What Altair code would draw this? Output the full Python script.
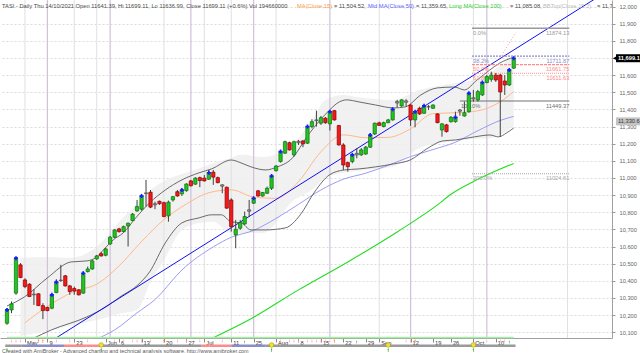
import altair as alt
import pandas as pd

# ---------------- data ----------------
opens = [10152,10230,10328,10493,10405,10380,10322,10324,10255,10244,
         10240,10331,10404,10429,10370,10355,10347,10328,10454,10469,
         10528,10558,10549,10615,10654,10703,10687,10720,10751,10808,
         10818,10913,10917,10850,10864,10856,10779,10872,10920,10907,
         10926,10983,10964,11002,10999,10993,11034,11002,10960,10946,
         10872,10668,10707,10732,10806,10853,10925,10895,10911,10940,
         11043,11096,11145,11206,11135,11214,11216,11203,11300,11335,
         11320,11349,11316,11393,11306,11193,11090,11096,11135,11135,
         11140,11180,11257,11322,11300,11323,11339,11438,11421,11450,
         11426,11339,11407,11378,11416,11407,11374,11280,11310,11329,
         11329,11390,11362,11387,11468,11456,11485,11557,11576,11601,
         11601,11566,11543,11641.39]
highs = [10240,10279,10538,10503,10415,10386,10351,10328,10269,10249,
         10324,10409,10493,10434,10376,10366,10351,10454,10483,10522,
         10551,10569,10594,10662,10701,10709,10722,10740,10796,10872,
         10907,10989,10930,10862,10868,10862,10868,10895,10930,10936,
         10969,10989,11005,11008,11018,11047,11047,11008,10964,10950,
         10882,10755,10755,10804,10872,10884,10930,10919,10950,11018,
         11076,11160,11218,11212,11218,11222,11222,11306,11343,11393,
         11362,11356,11397,11397,11310,11203,11096,11140,11174,11175,
         11187,11257,11323,11329,11329,11345,11409,11456,11460,11460,
         11430,11393,11416,11426,11426,11430,11378,11320,11316,11362,
         11387,11403,11446,11498,11514,11514,11562,11601,11621,11613,
         11607,11601,11636,11699.11]
lows = [10143,10211,10318,10415,10357,10308,10259,10253,10176,10222,
        10234,10328,10394,10366,10318,10318,10314,10324,10448,10464,
        10522,10541,10543,10609,10649,10681,10684,10600,10748,10802,
        10810,10833,10824,10818,10843,10771,10745,10862,10891,10895,
        10920,10950,10960,10946,10979,10989,10960,10969,10911,10820,
        10687,10590,10697,10726,10773,10849,10891,10891,10907,10930,
        11037,11090,11140,11160,11125,11193,11180,11199,11290,11300,
        11310,11316,11277,11335,11189,11047,11037,11086,11115,11129,
        11135,11175,11251,11305,11296,11320,11335,11413,11416,11416,
        11304,11296,11368,11374,11397,11403,11320,11241,11265,11323,
        11323,11364,11358,11381,11446,11446,11479,11553,11562,11561,
        11240,11485,11537,11636.99]
closes = [10230,10265,10532,10419,10366,10308,10318,10255,10226,10226,
          10318,10392,10401,10370,10337,10340,10318,10444,10469,10516,
          10545,10545,10586,10654,10697,10687,10716,10736,10789,10833,
          10895,10909,10830,10843,10850,10775,10859,10891,10895,10930,
          10965,10955,10999,10985,10983,11031,11005,10973,10952,10824,
          10716,10701,10740,10775,10814,10882,10895,10915,10940,11012,
          11070,11154,11212,11164,11212,11206,11199,11300,11329,11339,
          11352,11323,11387,11339,11193,11076,11066,11135,11144,11164,
          11180,11251,11320,11307,11323,11339,11401,11446,11456,11442,
          11339,11387,11374,11421,11415,11426,11323,11316,11271,11354,
          11354,11397,11381,11495,11461,11504,11557,11592,11601,11572,
          11502,11543,11631,11699.11]
signal_bars = [0, 2, 10, 11, 17, 30, 39, 45, 55, 59, 61, 67, 72, 77, 81, 86,
               91, 93, 100, 103, 106, 112, 113]

ma15_bars = [4, 9, 15, 20, 25, 30, 35, 40, 45, 50, 55, 60, 65, 70, 75, 80,
             85, 90, 95, 100, 105, 110, 113]
ma15_vals = [10155, 10250, 10338, 10380, 10487, 10629, 10757, 10848, 10914,
             10931, 10889, 10881, 10979, 11153, 11252, 11235, 11237, 11287,
             11376, 11381, 11392, 11445, 11504.52]
ma50_bars = [20, 24, 29, 33, 39, 46, 50, 55, 60, 65, 70, 75, 80, 85, 90, 95,
             100, 105, 110, 113]
ma50_vals = [10060, 10113, 10213, 10290, 10463, 10598, 10654, 10694, 10764,
             10846, 10930, 10993, 11028, 11074, 11125, 11166, 11209, 11276,
             11336, 11359.65]
ma100_bars = [45, 54, 65, 76, 87, 96, 99, 105, 113]
ma100_vals = [10055, 10172, 10347, 10510, 10685, 10843, 10905, 10992, 11085.08]

bbtop_bars = [0, 3.9, 9, 14.3, 17.8, 20, 21.5, 23.7, 25.9, 28.7, 31.8, 35.3,
              39, 42.8, 45.6, 50, 52.2, 54.4, 57.7, 60.3, 63.2, 67.5, 71.3,
              74.1, 75.7, 78.5, 82.2, 86.2, 88.8, 92.3, 96, 99.8, 102, 104.8,
              107.7, 109.9, 113]
bbtop_vals = [10253, 10306, 10417, 10510, 10516, 10539, 10580, 10639, 10679,
              10767, 10855, 10930, 10989, 11030, 11053, 11105, 11088, 11065,
              11047, 11065, 11105, 11263, 11380, 11444, 11456, 11444, 11426,
              11409, 11415, 11485, 11526, 11531, 11514, 11572, 11631, 11671,
              11705]
bbbot_bars = [6.1, 9.9, 17.8, 22.1, 25.2, 29.2, 31.8, 35.3, 39, 42.8, 45.6,
              47.8, 50, 52.2, 54.4, 57.7, 62.1, 65.4, 68.6, 71.9, 75.2, 78.5,
              82.2, 86.2, 89.9, 93.9, 97.1, 100, 104.2, 107.7, 109.6, 111.4, 113]
bbbot_vals = [10067, 10113, 10189, 10248, 10306, 10376, 10452, 10621, 10738,
              10767, 10785, 10785, 10744, 10738, 10697, 10697, 10709, 10785,
              10919, 11018, 11047, 11053, 11065, 11082, 11105, 11175, 11216,
              11222, 11240, 11251, 11240, 11263, 11292]

cloud_bars = [3, 10, 14, 18, 22, 25, 29, 32, 35, 39, 43, 46, 50, 52, 57, 64,
              68, 71, 75, 78, 86, 92, 100, 104, 108, 113]
cloud_top = [10534, 10539, 10534, 10563, 10650, 10744, 10849, 10930, 10983,
             11024, 11059, 11088, 11117, 11135, 11123, 11205, 11339, 11456,
             11485, 11473, 11456, 11514, 11555, 11572, 11619, 11718]
cloud_bot = [10078, 10113, 10137, 10160, 10184, 10207, 10230, 10393, 10522,
             10697, 10738, 10744, 10679, 10679, 10679, 10872, 10930, 11000,
             11030, 11041, 11065, 11175, 11216, 11228, 11234, 11304]

trend_bars = [8, 134]
trend_vals = [10018, 12093]
fibdot_bars = [109.9, 113.5]
fibdot_vals = [11700, 11850]

fib_pct = ["0.0%", "38.2%", "50.0%", "61.8%", "100.0%", "200.0%"]
fib_vals = [11874.13, 11711.87, 11661.75, 11611.63, 11449.37, 11024.61]
fib_start = [103.7, 103.7, 103.7, 103.7, 101.0, 103.7]
fib_end = [125.4, 125.4, 125.4, 125.4, 125.4, 125.4]
fib_text = ["11874.13", "11711.87", "11661.75", "11611.63", "11449.37", "11024.61"]

tick_bars = [4, 9, 15, 22, 25, 30, 35, 40, 44, 50, 55, 60, 65, 70, 75, 80,
             83, 90, 95, 99, 104, 109]
tick_labels = ["May", "9", "23", "Jun", "6", "13", "20", "27", "Jul", "11",
               "25", "Aug", "8", "15", "22", "29", "Sep", "12", "19", "26",
               "Oct", "10"]
y_ticks = list(range(10100, 12001, 100))
y_hidden_label = 11700          # covered by the last-price tag
grid_bars = [4, 15, 20, 35, 44, 50, 60, 83, 104, 125]
study_bars = [9, 23, 41, 55, 72, 90, 107]

# bottom ribbon (state per bar range) and signal icons under the chart
ribbon_from = [-0.4, 3.3, 12.7, 17.8, 20.4, 43.4, 45.2, 50, 57.7]
ribbon_to = [3.3, 12.7, 17.8, 20.4, 43.4, 45.2, 50, 57.7, 113.4]
ribbon_state = ["m", "c", "k", "r", "m", "r", "k", "c", "m"]
sell_bars = [1, 2, 3, 11, 14, 18, 24, 26, 28, 29, 30, 32, 38, 40, 43, 48, 61,
             63, 64, 65, 67, 68, 69, 70, 71, 72, 89, 90, 107, 110, 111]
alert_bars = [7, 8, 35, 73, 91]
event_bars = [21, 59, 85, 104]
buy_bars = [0, 21, 59, 85, 104]
small_buy_bars = [53, 78, 112]

last_price = 11699.11
last_label = "11,699.1"
other_price = 11330.6
other_label = "11,330.6"

header = [
    ("TASI - Daily Thu 14/10/2021 Open 11641.39, Hi 11699.11, Lo 11636.99, "
     "Close 11699.11 (+0.6%) Vol 194660000", "#4a4a4a"),
    ("MA(Close,15)", "#ff9a3c"),
    ("= 11,504.52,", "#4a4a4a"),
    ("Mid MA(Close,50)", "#6060ff"),
    ("= 11,359.65,", "#4a4a4a"),
    ("Long MA(Close,100)", "#33cc33"),
    ("= 11,085.08,", "#4a4a4a"),
    ("BBTop(Close,15,2)", "#bdbdbd"),
    ("= 11,70", "#4a4a4a"),
]
header_x = [2, 297, 334, 368, 416, 449, 510, 543, 597]
footer = ("Created with AmiBroker - Advanced charting and technical analysis "
          "software. http://www.amibroker.com")

# ---------------- chart ----------------
FONT = "Liberation Sans"
FS = 5.7
W, H = 612, 338

xs = alt.Scale(domain=[-0.45, 133.8], nice=False, zero=False)
ys = alt.Scale(domain=[10066, 12039], nice=False, zero=False)

lab_expr = ("[" + ",".join("'%s'" % t for t in tick_labels) + "][indexof(["
            + ",".join(str(b) for b in tick_bars) + "], datum.value)]")
x_axis = alt.Axis(values=tick_bars, labelExpr=lab_expr, grid=False,
                  tickSize=4, tickColor="#888", domainColor="#a0a0a0",
                  labelFontSize=FS, labelFont=FONT, labelColor="#333",
                  labelAlign="left", labelBaseline="middle", labelPadding=0,
                  labelOffset=1.5, labelOverlap=False, labelFlush=False,
                  title=None)
y_axis = alt.Axis(orient="right", values=y_ticks,
                  labelExpr="datum.value == %d ? '' : format(datum.value, ',d')"
                  % y_hidden_label,
                  grid=True, gridColor="#d2d2d2", gridDash=[2, 2],
                  gridWidth=0.8, tickSize=3, tickColor="#999",
                  domainColor="#a0a0a0", labelFontSize=FS, labelFont=FONT,
                  labelColor="#666", labelPadding=4, title=None)


def X(f="bar"):
    return alt.X(f"{f}:Q", scale=xs, axis=x_axis)


def Y(f="val"):
    return alt.Y(f"{f}:Q", scale=ys, axis=y_axis)


candles = pd.DataFrame({"bar": list(range(len(closes))), "open": opens,
                        "high": highs, "low": lows, "close": closes})
candles["dir"] = ["flat" if abs(c - o) < 12 else ("up" if c > o else "down")
                  for o, c in zip(opens, closes)]
sig = candles[candles["bar"].isin(signal_bars)]


def line_df(b, v):
    return pd.DataFrame({"bar": b, "val": v})


cloud = alt.Chart(pd.DataFrame({"bar": cloud_bars, "top": cloud_top,
                                "bot": cloud_bot})).mark_area(
    color="#eeeeee", opacity=0.85, interpolate="monotone").encode(
    x=X(), y=Y("top"), y2="bot:Q")

vgrid = alt.Chart(pd.DataFrame({"bar": grid_bars})).mark_rule(
    color="#e0e0e0", strokeWidth=1).encode(x=X())
vstudy = alt.Chart(pd.DataFrame({"bar": study_bars})).mark_rule(
    color="#cdc2da", strokeWidth=1.2).encode(x=X())


def ln(b, v, color, width=1.0, dash=None, interp="monotone"):
    kw = dict(color=color, strokeWidth=width, clip=True, interpolate=interp)
    if dash:
        kw["strokeDash"] = dash
    return alt.Chart(line_df(b, v)).mark_line(**kw).encode(x=X(), y=Y())


ma100 = ln(ma100_bars, ma100_vals, "#22dd22", 1.1)
ma50 = ln(ma50_bars, ma50_vals, "#9c9cf2", 1.0)
ma15 = ln(ma15_bars, ma15_vals, "#ffb98a", 1.0)
bbtop = ln(bbtop_bars, bbtop_vals, "#5a5a5a", 0.9)
bbbot = ln(bbbot_bars, bbbot_vals, "#5a5a5a", 0.9)
trend = ln(trend_bars, trend_vals, "#1010f0", 1.0, interp="linear")
fibdot = ln(fibdot_bars, fibdot_vals, "#ff9999", 1.0, [1, 2], "linear")

fib_df = pd.DataFrame({"lvl": fib_pct, "val": fib_vals, "b0": fib_start,
                       "b1": fib_end, "txt": fib_text})
fib_colors = alt.Scale(domain=fib_pct, range=["#9a9a9a", "#8c8cc8", "#ff8a8a",
                                              "#ff8a8a", "#707070", "#a8a8a8"])
fib_txt_colors = alt.Scale(domain=fib_pct, range=["#777", "#8080b0", "#ff6060",
                                                  "#ff6060", "#555", "#888"])
fib_dash = alt.Scale(domain=fib_pct, range=[[1, 0], [2, 1], [3, 1], [1, 1],
                                            [1, 0], [1, 1]])
fib_w = alt.Scale(domain=fib_pct, range=[1.4, 1, 1, 1, 1.5, 1])
fib_lines = alt.Chart(fib_df).mark_rule().encode(
    x=X("b0"), x2="b1:Q", y=Y(),
    color=alt.Color("lvl:N", scale=fib_colors, legend=None),
    strokeDash=alt.StrokeDash("lvl:N", scale=fib_dash, legend=None),
    strokeWidth=alt.StrokeWidth("lvl:N", scale=fib_w, legend=None))
fib_pct_txt = alt.Chart(fib_df).mark_text(
    align="left", baseline="top", dy=1.5, dx=1, fontSize=FS, font=FONT).encode(
    x=X("b0"), y=Y(), text="lvl:N",
    color=alt.Color("lvl:N", scale=fib_txt_colors, legend=None))
fib_val_txt = alt.Chart(fib_df).mark_text(
    align="right", baseline="top", dy=1.5, fontSize=FS, font=FONT).encode(
    x=X("b1"), y=Y(), text="txt:N",
    color=alt.Color("lvl:N", scale=fib_txt_colors, legend=None))

wicks = alt.Chart(candles).mark_rule(color="#404040", strokeWidth=1).encode(
    x=X(), y=Y("low"), y2="high:Q")
bodies = alt.Chart(candles).mark_bar(size=3.3, strokeWidth=0.7).encode(
    x=X(), y=Y("open"), y2="close:Q",
    fill=alt.Fill("dir:N", scale=alt.Scale(domain=["up", "down", "flat"],
                  range=["#22c422", "#f21a1a", "#a6a6a6"]), legend=None),
    stroke=alt.Stroke("dir:N", scale=alt.Scale(domain=["up", "down", "flat"],
                      range=["#0b700b", "#8c0000", "#4a4a4a"]), legend=None))
crosses = alt.Chart(sig).mark_point(shape="cross", filled=True, size=16,
                                    color="#1a1aff", opacity=1).encode(
    x=X(), y=Y("close"))

# bottom decorations
one = pd.DataFrame({"a": [0], "b": [len(closes) - 1]})
green_base = alt.Chart(one).mark_rule(color="#a6eea6", strokeWidth=1.5).encode(
    x=X("a"), x2="b:Q", y=alt.value(H - 0.5))
rib_df = pd.DataFrame({"a": ribbon_from, "b": ribbon_to, "s": ribbon_state})
ribbon = alt.Chart(rib_df).mark_rect().encode(
    x=X("a"), x2="b:Q", y=alt.value(H + 6.5), y2=alt.value(H + 9),
    color=alt.Color("s:N", scale=alt.Scale(domain=["m", "c", "k", "r"],
                    range=["#d61fb0", "#45d3c6", "#c8c27a", "#f22a2a"]),
                    legend=None))
sells = alt.Chart(pd.DataFrame({"bar": sell_bars})).mark_point(
    shape="arrow", angle=180, filled=True, size=14, color="#ffa3c4",
    opacity=1).encode(x=X(), y=alt.value(H + 3))
alerts = alt.Chart(pd.DataFrame({"bar": alert_bars})).mark_point(
    shape="arrow", filled=True, size=18, color="#ff8a2a", opacity=1).encode(
    x=X(), y=alt.value(H + 3))
events = alt.Chart(pd.DataFrame({"bar": event_bars})).mark_point(
    shape="circle", filled=True, size=22, color="#f5e030", stroke="#a09000",
    strokeWidth=0.5, opacity=1).encode(x=X(), y=alt.value(H + 7))
buys = alt.Chart(pd.DataFrame({"bar": buy_bars})).mark_point(
    shape="arrow", filled=True, size=16, color="#1faa1f", opacity=1).encode(
    x=X(), y=alt.value(H + 12))
small_buys = alt.Chart(pd.DataFrame({"bar": small_buy_bars})).mark_point(
    shape="arrow", filled=True, size=9, color="#1faa1f", opacity=1).encode(
    x=X(), y=alt.value(H + 4))

# price tags on the right axis
tag_df = pd.DataFrame({"p": [last_price], "t": [last_label]})
tag_rect = alt.Chart(tag_df).mark_rect(color="#000", yOffset=-4,
                                       y2Offset=4).encode(
    x=alt.value(W + 4), x2=alt.value(W + 28), y=Y("p"), y2="p:Q")
tag_tri = alt.Chart(tag_df).mark_point(shape="triangle-left", filled=True,
                                       size=22, color="#000", opacity=1).encode(
    x=alt.value(W + 3), y=Y("p"))
tag_txt = alt.Chart(tag_df).mark_text(align="left", baseline="middle",
                                      fontSize=FS, font=FONT, color="#fff",
                                      fontWeight="bold").encode(
    x=alt.value(W + 6), y=Y("p"), text="t:N")
tag2_df = pd.DataFrame({"p": [other_price], "t": [other_label]})
tag2_rect = alt.Chart(tag2_df).mark_rect(color="#c4c4c4", yOffset=-4,
                                         y2Offset=4).encode(
    x=alt.value(W + 4), x2=alt.value(W + 28), y=Y("p"), y2="p:Q")
tag2_txt = alt.Chart(tag2_df).mark_text(align="left", baseline="middle",
                                        fontSize=FS, font=FONT,
                                        color="#333").encode(
    x=alt.value(W + 6), y=Y("p"), text="t:N")

# header and footer text
head_layers = []
for (txt, col), hx in zip(header, header_x):
    head_layers.append(
        alt.Chart(pd.DataFrame({"t": [txt]})).mark_text(
            align="left", baseline="middle", fontSize=5.75, font=FONT,
            color=col, clip=True).encode(
            x=alt.value(hx), y=alt.value(6), text="t:N"))
foot = alt.Chart(pd.DataFrame({"t": [footer]})).mark_text(
    align="left", baseline="middle", fontSize=5.4, font=FONT,
    color="#5a5a5a").encode(x=alt.value(2), y=alt.value(H + 12.5), text="t:N")

chart = alt.layer(
    cloud, vgrid, vstudy, ma100, ma50, ma15, bbtop, bbbot, trend,
    fib_lines, fib_pct_txt, fib_val_txt, fibdot,
    wicks, bodies, crosses,
    green_base, ribbon, sells, alerts, small_buys, events, foot, buys,
    tag_rect, tag_tri, tag_txt, tag2_rect, tag2_txt,
    *head_layers
).properties(
    width=W, height=H,
    autosize=alt.AutoSizeParams(type="none"),
    padding={"left": 0, "top": 0, "right": 28, "bottom": 15},
    background="white"
).configure_view(stroke=None)

chart.save("out.html", embed_options={"renderer": "svg", "actions": False})
